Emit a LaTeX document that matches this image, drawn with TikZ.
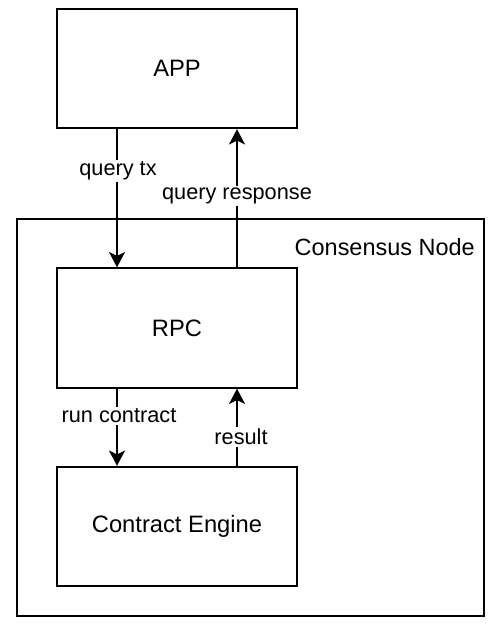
\documentclass[tikz,border=0pt]{standalone}
\usepackage{fontspec}
\setmainfont{Liberation Sans}
\usetikzlibrary{arrows.meta}
\begin{document}
\begin{tikzpicture}[x=0.75pt,y=-0.75pt,
  box/.style={draw=black,line width=1.5pt,rectangle,minimum width=180pt,minimum height=89.5pt,inner sep=0pt,font=\fontsize{17.8}{20}\selectfont},
  outer/.style={draw=black,line width=1.5pt,rectangle,minimum width=350.25pt,minimum height=297.75pt,inner sep=0pt},
  arr/.style={line width=1.5pt,-{Stealth[length=11.5pt,width=12pt,inset=3pt]}},
  lbl/.style={fill=white,inner sep=1.5pt,font=\fontsize{16.3}{19}\selectfont},
  title/.style={inner sep=0pt,font=\fontsize{17.6}{20}\selectfont}]
\useasboundingbox (0,0) rectangle (496,634);
\node[outer] (cn) at (250.5,417.5) {};
\node[title,anchor=east] (cnl) at (475,247) {Consensus Node};
\node[box] (app) at (177,68.5) {APP};
\node[box] (rpc) at (177,328) {RPC};
\node[box] (ce) at (177,526.5) {Contract Engine};
\draw[arr] ([xshift=-45pt]app.south) -- ([xshift=-45pt]rpc.north);
\draw[arr] ([xshift=45pt]rpc.north) -- ([xshift=45pt]app.south);
\draw[arr] ([xshift=-45pt]rpc.south) -- ([xshift=-45pt]ce.north);
\draw[arr] ([xshift=45pt]ce.north) -- ([xshift=45pt]rpc.south);
\node[lbl] (l1) at (118,171) {query tx};
\node[lbl] (l2) at (237,196) {query response};
\node[lbl] (l3) at (119,416) {run contract};
\node[lbl] (l4) at (241,437) {result};
\end{tikzpicture}
\end{document}
